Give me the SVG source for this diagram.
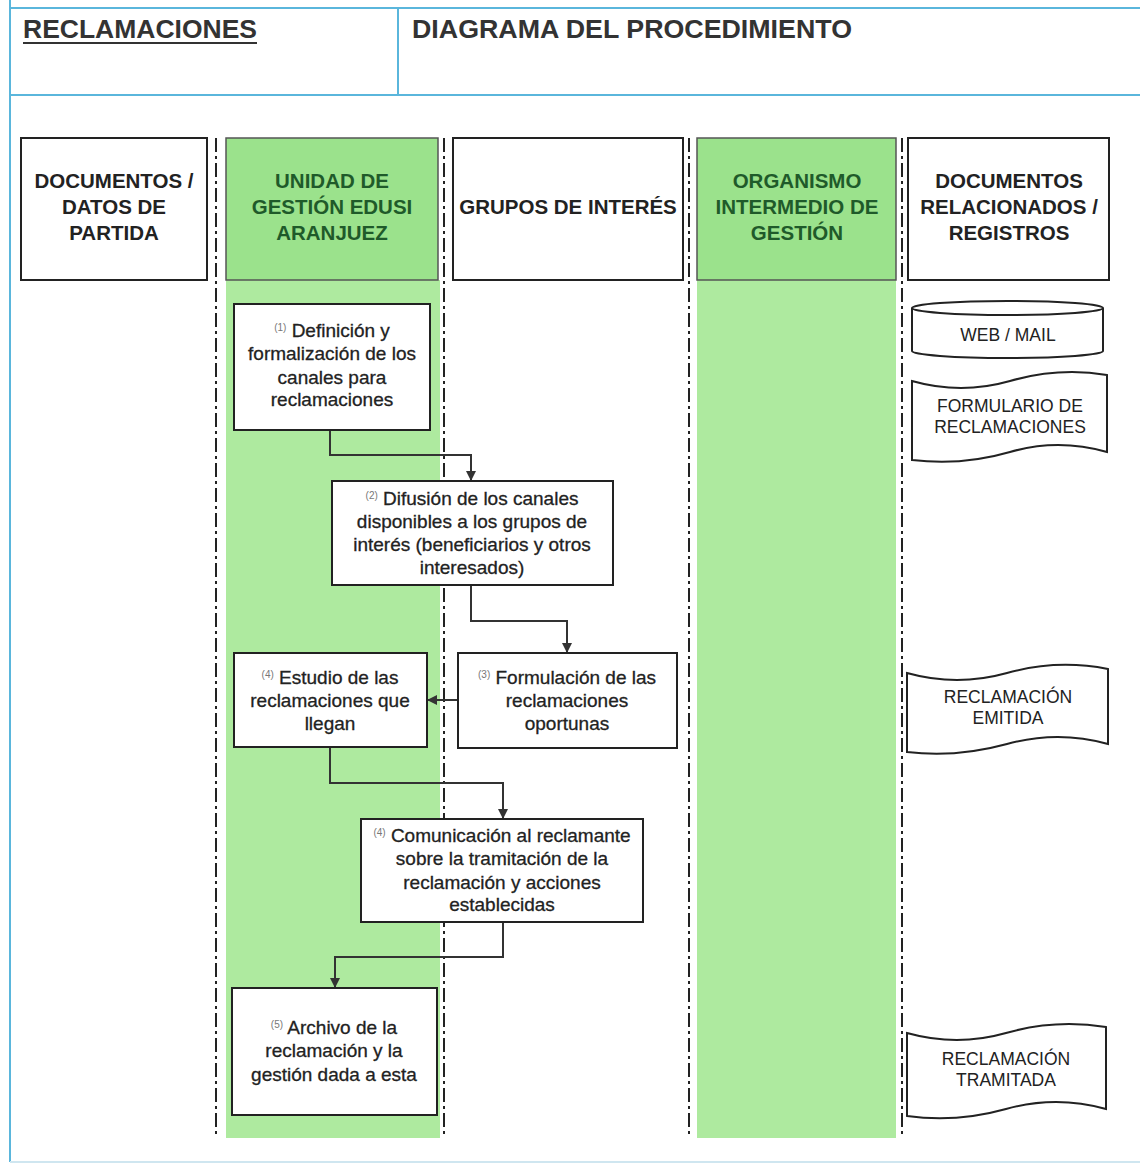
<svg xmlns="http://www.w3.org/2000/svg" width="1140" height="1170" viewBox="0 0 1140 1170">
<style>
.frame{stroke:#5ab6dc;stroke-width:2;fill:none}
.hdr{font-family:"Liberation Sans",Arial,sans-serif;font-weight:bold;font-size:26px;fill:#333}
.lh{font-family:"Liberation Sans",Arial,sans-serif;font-weight:bold;font-size:20.5px;fill:#222;text-anchor:middle}
.lhg{fill:#1f5a2a}
.box{fill:#fff;stroke:#222;stroke-width:2}
.t{font-family:"Liberation Sans",Arial,sans-serif;font-size:19px;fill:#222;stroke:#222;stroke-width:0.3;text-anchor:middle}
.sup{font-size:10px;fill:#777;stroke:none}
.dt{font-family:"Liberation Sans",Arial,sans-serif;font-size:17.5px;fill:#222;text-anchor:middle}
.sep{stroke:#222;stroke-width:2;stroke-dasharray:14 4 3 4;fill:none}
.con{stroke:#333;stroke-width:2;fill:none;marker-end:url(#ah)}
.doc{fill:#fff;stroke:#222;stroke-width:2}
</style>
<defs>
<marker id="ah" markerWidth="10" markerHeight="10" refX="9" refY="5" orient="auto" markerUnits="userSpaceOnUse">
<path d="M0,0 L10,5 L0,10 Z" fill="#333"/>
</marker>
</defs>
<rect width="1140" height="1170" fill="#fff"/>
<g id="frame">
<line class="frame" x1="10" y1="8" x2="1140" y2="8"/>
<line class="frame" x1="10" y1="95" x2="1140" y2="95"/>
<line class="frame" x1="10" y1="0" x2="10" y2="1162"/>
<line class="frame" x1="398" y1="8" x2="398" y2="95"/>
<line x1="10" y1="1162" x2="1140" y2="1162" stroke="#cfe6f0" stroke-width="2"/>
<text class="hdr" x="23" y="38" textLength="234" lengthAdjust="spacingAndGlyphs">RECLAMACIONES</text>
<line x1="23" y1="43" x2="257" y2="43" stroke="#333" stroke-width="2"/>
<text class="hdr" x="412" y="38" textLength="440" lengthAdjust="spacingAndGlyphs">DIAGRAMA DEL PROCEDIMIENTO</text>
</g>
<g id="lanes">
<rect x="226" y="280" width="214" height="858" fill="#aeea9f"/>
<rect x="697" y="280" width="199" height="858" fill="#aeea9f"/>
<line class="sep" x1="216" y1="138" x2="216" y2="1138"/>
<line class="sep" x1="444" y1="138" x2="444" y2="1138"/>
<line class="sep" x1="689" y1="138" x2="689" y2="1138"/>
<line class="sep" x1="902" y1="138" x2="902" y2="1138"/>
</g>
<g id="lane-docs-partida">
<rect class="box" x="21" y="138" width="186" height="142"/>
<text class="lh" x="114" y="188">DOCUMENTOS /</text>
<text class="lh" x="114" y="214">DATOS DE</text>
<text class="lh" x="114" y="240">PARTIDA</text>
</g>
<g id="lane-unidad">
<rect x="226" y="138" width="212" height="142" fill="#9be28c" stroke="#555" stroke-width="1.5"/>
<text class="lh lhg" x="332" y="188">UNIDAD DE</text>
<text class="lh lhg" x="332" y="214">GESTIÓN EDUSI</text>
<text class="lh lhg" x="332" y="240">ARANJUEZ</text>
</g>
<g id="lane-grupos">
<rect class="box" x="453" y="138" width="230" height="142"/>
<text class="lh" x="568" y="214">GRUPOS DE INTERÉS</text>
</g>
<g id="lane-organismo">
<rect x="697" y="138" width="199" height="142" fill="#9be28c" stroke="#555" stroke-width="1.5"/>
<text class="lh lhg" x="797" y="188">ORGANISMO</text>
<text class="lh lhg" x="797" y="214">INTERMEDIO DE</text>
<text class="lh lhg" x="797" y="240">GESTIÓN</text>
</g>
<g id="lane-docs-rel">
<rect class="box" x="908" y="138" width="201" height="142"/>
<text class="lh" x="1009" y="188">DOCUMENTOS</text>
<text class="lh" x="1009" y="214">RELACIONADOS /</text>
<text class="lh" x="1009" y="240">REGISTROS</text>
</g>
<g id="connectors">
<path class="con" d="M330,430 V455 H471 V480"/>
<path class="con" d="M471,585 V621 H567 V652"/>
<path class="con" d="M458,700 H428"/>
<path class="con" d="M330,747 V783 H503 V818"/>
<path class="con" d="M503,922 V957 H335 V987"/>
</g>
<g id="n1">
<rect class="box" x="234" y="304" width="196" height="126"/>
<text class="t" x="332" y="337"><tspan class="sup" dy="-6">(1)</tspan><tspan dy="6"> Definición y</tspan></text>
<text class="t" x="332" y="360">formalización de los</text>
<text class="t" x="332" y="384">canales para</text>
<text class="t" x="332" y="406">reclamaciones</text>
</g>
<g id="n2">
<rect class="box" x="332" y="481" width="281" height="104"/>
<text class="t" x="472" y="505"><tspan class="sup" dy="-6">(2)</tspan><tspan dy="6"> Difusión de los canales</tspan></text>
<text class="t" x="472" y="528">disponibles a los grupos de</text>
<text class="t" x="472" y="551">interés (beneficiarios y otros</text>
<text class="t" x="472" y="574">interesados)</text>
</g>
<g id="n3">
<rect class="box" x="458" y="653" width="219" height="95"/>
<text class="t" x="567" y="684"><tspan class="sup" dy="-6">(3)</tspan><tspan dy="6"> Formulación de las</tspan></text>
<text class="t" x="567" y="707">reclamaciones</text>
<text class="t" x="567" y="730">oportunas</text>
</g>
<g id="n4a">
<rect class="box" x="234" y="653" width="193" height="94"/>
<text class="t" x="330" y="684"><tspan class="sup" dy="-6">(4)</tspan><tspan dy="6"> Estudio de las</tspan></text>
<text class="t" x="330" y="707">reclamaciones que</text>
<text class="t" x="330" y="730">llegan</text>
</g>
<g id="n4b">
<rect class="box" x="361" y="819" width="282" height="103"/>
<text class="t" x="502" y="842"><tspan class="sup" dy="-6">(4)</tspan><tspan dy="6"> Comunicación al reclamante</tspan></text>
<text class="t" x="502" y="865">sobre la tramitación de la</text>
<text class="t" x="502" y="889">reclamación y acciones</text>
<text class="t" x="502" y="911">establecidas</text>
</g>
<g id="n5">
<rect class="box" x="232" y="988" width="205" height="127"/>
<text class="t" x="334" y="1034"><tspan class="sup" dy="-6">(5)</tspan><tspan dy="6"> Archivo de la</tspan></text>
<text class="t" x="334" y="1057">reclamación y la</text>
<text class="t" x="334" y="1081">gestión dada a esta</text>
</g>
<g id="d-web">
<path class="doc" d="M912,308 A95.5,7 0 0 1 1103,308 V351 A95.5,7 0 0 1 912,351 Z"/>
<path d="M912,308 A95.5,7 0 0 0 1103,308" fill="none" stroke="#222" stroke-width="2"/>
<text class="dt" x="1008" y="341" font-size="20">WEB / MAIL</text>
</g>
<g id="d-formulario">
<path class="doc" d="M912,381 Q961,395 1010,381 T1107,375 V452 Q1058,438 1010,452 T912,460 Z"/>
<text class="dt" x="1010" y="412">FORMULARIO DE</text>
<text class="dt" x="1010" y="433">RECLAMACIONES</text>
</g>
<g id="d-emitida">
<path class="doc" d="M907,673 Q957,687 1007,673 T1108,669 V744 Q1058,730 1007,744 T907,752 Z"/>
<text class="dt" x="1008" y="703">RECLAMACIÓN</text>
<text class="dt" x="1008" y="724">EMITIDA</text>
</g>
<g id="d-tramitada">
<path class="doc" d="M907,1033 Q957,1047 1006,1033 T1106,1027 V1109 Q1056,1095 1006,1109 T907,1116 Z"/>
<text class="dt" x="1006" y="1065">RECLAMACIÓN</text>
<text class="dt" x="1006" y="1086">TRAMITADA</text>
</g>
</svg>
